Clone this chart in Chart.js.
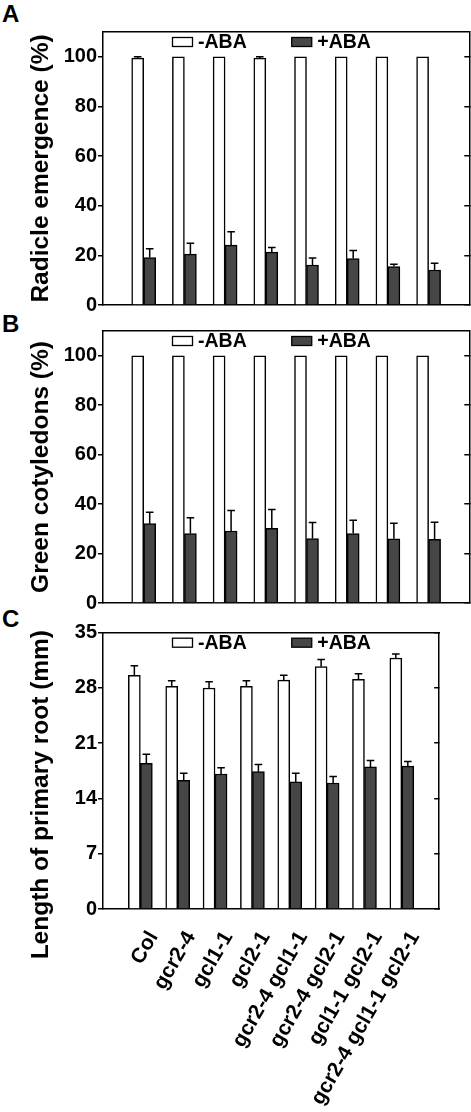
<!DOCTYPE html>
<html><head><meta charset="utf-8">
<script src="https://cdn.jsdelivr.net/npm/chart.js@4/dist/chart.umd.min.js"></script>
<style>
html,body{margin:0;padding:0;background:#fff;width:471px;height:1112px;overflow:hidden;position:relative;}
canvas{position:absolute;left:0;}
.lbl{position:absolute;left:2px;font:bold 24px "Liberation Sans",Arial,sans-serif;line-height:24px;color:#000;}
</style></head><body>
<div class="lbl" style="top:2px">A</div>
<div class="lbl" style="top:312px">B</div>
<div class="lbl" style="top:607px">C</div>
<canvas id="cA" width="471" height="318" style="top:0px"></canvas>
<canvas id="cB" width="471" height="298" style="top:318px"></canvas>
<canvas id="cC" width="471" height="496" style="top:616px"></canvas>
<script>
// ---- data ----
const categories = ['Col','gcr2-4','gcl1-1','gcl2-1','gcr2-4 gcl1-1','gcr2-4 gcl2-1','gcl1-1 gcl2-1','gcr2-4 gcl1-1 gcl2-1'];
const seriesNames = ['-ABA','+ABA'];

const radicleMinus    = [99.5, 100, 100, 99.5, 100, 100, 100, 100];
const radicleMinusErr = [0.5, 0, 0, 0.5, 0, 0, 0, 0];
const radiclePlus     = [19.1, 20.5, 24.1, 21.3, 16.1, 18.7, 15.5, 14.1];
const radiclePlusErr  = [3.6, 4.4, 5.4, 1.9, 2.8, 3.3, 0.9, 2.7];

const greenMinus    = [100, 100, 100, 100, 100, 100, 100, 100];
const greenMinusErr = [0, 0, 0, 0, 0, 0, 0, 0];
const greenPlus     = [32.1, 28.1, 29.1, 30.2, 26.1, 28.1, 26.0, 25.7];
const greenPlusErr  = [4.6, 6.4, 8.3, 7.6, 6.5, 5.4, 6.3, 7.0];

const rootMinus    = [29.6, 28.2, 28.0, 28.2, 29.0, 30.7, 29.1, 31.8];
const rootMinusErr = [1.2, 0.7, 0.8, 0.7, 0.6, 0.9, 0.7, 0.5];
const rootPlus     = [18.45, 16.3, 17.1, 17.4, 16.1, 15.96, 18.0, 18.1];
const rootPlusErr  = [1.15, 0.9, 0.8, 0.9, 1.1, 0.84, 0.8, 0.6];

const yTicksPercent = [0, 20, 40, 60, 80, 100];
const yTicksRoot    = [0, 7, 14, 21, 28, 35];

const titleA = 'Radicle emergence (%)';
const titleB = 'Green cotyledons (%)';
const titleC = 'Length of primary root (mm)' + '\u00a0'.repeat(7);

// ---- rendering ----
const FONT = '"Liberation Sans", Arial, sans-serif';
Chart.defaults.color = '#000';
Chart.defaults.font.family = FONT;

const pad = arr => [null, ...arr, null];
const paddedLabels = ['', ...categories, ''];

const errorBarPlugin = {
  id: 'errorBars',
  afterDatasetsDraw(chart) {
    const ctx = chart.ctx;
    const yScale = chart.scales.y;
    chart.data.datasets.forEach((ds, i) => {
      const meta = chart.getDatasetMeta(i);
      (ds.errors || []).forEach((e, j) => {
        const v = ds.data[j];
        if (v == null || !e) return;
        const bar = meta.data[j];
        const x = bar.x;
        const y0 = yScale.getPixelForValue(v);
        const y1 = yScale.getPixelForValue(v + e);
        ctx.save();
        ctx.strokeStyle = '#000';
        ctx.lineWidth = 1.5;
        ctx.beginPath();
        ctx.moveTo(x, y0);
        ctx.lineTo(x, y1);
        ctx.moveTo(x - 3.8, y1);
        ctx.lineTo(x + 3.8, y1);
        ctx.stroke();
        ctx.restore();
      });
    });
  }
};

const insideLegendPlugin = {
  id: 'insideLegend',
  afterDraw(chart) {
    const ctx = chart.ctx;
    const area = chart.chartArea;
    let x = area.left + 69.5;
    const yc = area.top + 10;
    ctx.save();
    ctx.font = 'bold 19.5px ' + FONT;
    ctx.textBaseline = 'middle';
    ctx.textAlign = 'left';
    chart.data.datasets.forEach(ds => {
      ctx.fillStyle = ds.backgroundColor;
      ctx.strokeStyle = '#000';
      ctx.lineWidth = 1.3;
      ctx.fillRect(x, yc - 4.5, 20, 9);
      ctx.strokeRect(x, yc - 4.5, 20, 9);
      ctx.fillStyle = '#000';
      ctx.fillText(ds.label, x + 25.5, yc + 0.5);
      x += 25.5 + ctx.measureText(ds.label).width + 45;
    });
    ctx.restore();
  }
};

function makePanel(id, cfg) {
  const tickFont = {family: FONT, size: 20, weight: 'bold'};
  const setTicks = s => { s.ticks = cfg.yTicks.map(v => ({value: v})); };
  return new Chart(document.getElementById(id), {
    type: 'bar',
    data: {
      labels: paddedLabels,
      datasets: [
        {label: seriesNames[0], data: pad(cfg.minus), errors: pad(cfg.minusErr),
         backgroundColor: '#ffffff', borderColor: '#000', borderWidth: 1.5,
         borderSkipped: 'start', barThickness: 12},
        {label: seriesNames[1], data: pad(cfg.plus), errors: pad(cfg.plusErr),
         backgroundColor: '#464646', borderColor: '#000', borderWidth: 1.5,
         borderSkipped: 'start', barThickness: 12}
      ]
    },
    options: {
      responsive: false,
      animation: false,
      devicePixelRatio: 1,
      layout: {padding: {top: cfg.top, right: 1.7, left: 0, bottom: 0}},
      plugins: {legend: {display: false}, tooltip: {enabled: false}},
      scales: {
        x: {
          type: 'category', position: 'bottom', offset: false,
          grid: {display: false},
          border: {display: true, color: '#000', width: 1.5},
          ticks: {display: cfg.showX, autoSkip: false, minRotation: 60, maxRotation: 60,
                  padding: 10, labelOffset: 13, color: '#000',
                  font: {family: FONT, size: 21, weight: 'bold'}},
          afterFit: s => { s.height = cfg.xHeight; }
        },
        xTop: {
          type: 'category', position: 'top', offset: false,
          grid: {display: false},
          border: {display: true, color: '#000', width: 1.5},
          ticks: {display: false},
          afterFit: s => { s.height = 0; }
        },
        y: {
          type: 'linear', position: 'left', min: 0, max: cfg.yMax,
          afterBuildTicks: setTicks,
          grid: {drawOnChartArea: false, drawTicks: true, tickLength: 5, color: '#000', lineWidth: 1.5},
          border: {display: true, color: '#000', width: 1.5},
          ticks: {padding: 1, color: '#000', font: tickFont},
          title: {display: true, text: cfg.title, color: '#000',
                  font: {family: FONT, size: 24.5, weight: 'bold'}, padding: {top: 27, bottom: 0}},
          afterFit: s => { s.width = 103; }
        },
        y2: {
          type: 'linear', position: 'right', min: 0, max: cfg.yMax,
          afterBuildTicks: setTicks,
          grid: {drawOnChartArea: false, drawTicks: true, tickLength: -5, color: '#000', lineWidth: 1.5},
          border: {display: true, color: '#000', width: 1.5},
          ticks: {display: false},
          afterFit: s => { s.width = 0; }
        }
      }
    },
    plugins: [errorBarPlugin, insideLegendPlugin]
  });
}

makePanel('cA', {minus: radicleMinus, minusErr: radicleMinusErr, plus: radiclePlus, plusErr: radiclePlusErr,
  yMax: 110, yTicks: yTicksPercent, title: titleA, top: 32, xHeight: 11, showX: false});
makePanel('cB', {minus: greenMinus, minusErr: greenMinusErr, plus: greenPlus, plusErr: greenPlusErr,
  yMax: 110, yTicks: yTicksPercent, title: titleB, top: 12.7, xHeight: 10.3, showX: false});
makePanel('cC', {minus: rootMinus, minusErr: rootMinusErr, plus: rootPlus, plusErr: rootPlusErr,
  yMax: 35, yTicks: yTicksRoot, title: titleC, top: 16.7, xHeight: 203, showX: true});
</script>
</body></html>
